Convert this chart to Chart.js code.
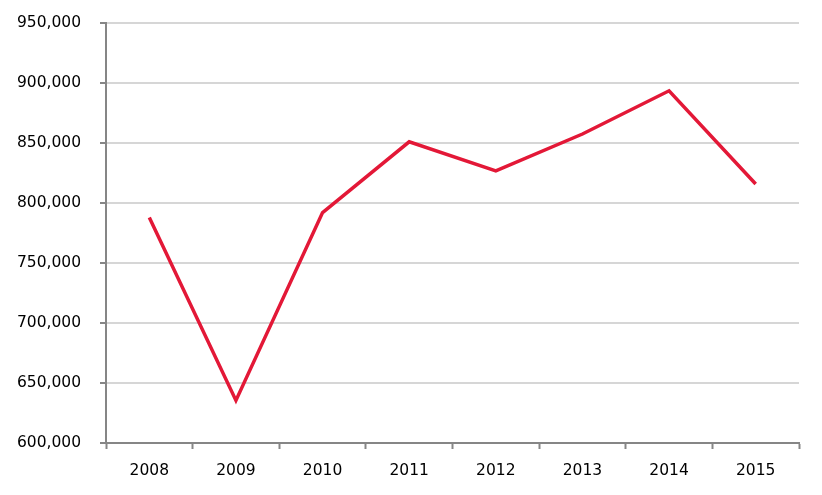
<!DOCTYPE html>
<html>
<head>
<meta charset="utf-8">
<script src="https://cdn.jsdelivr.net/npm/chart.js@4.4.1/dist/chart.umd.min.js"></script>
<style>
  html, body { margin: 0; padding: 0; background: #fff; }
  #chart { display: block; }
</style>
</head>
<body>
<canvas id="chart" width="822" height="495"></canvas>
<script>
// Data
const years = ['2008', '2009', '2010', '2011', '2012', '2013', '2014', '2015'];
const values = [788000, 635500, 792000, 851000, 826700, 857500, 893500, 815800];
const yMin = 600000;
const yMax = 950000;
const yStep = 50000;

Chart.defaults.font.family = '"DejaVu Sans", sans-serif';
Chart.defaults.color = '#000';

const axisGray = '#868686';

const ctx = document.getElementById('chart').getContext('2d');
const chart = new Chart(ctx, {
    type: 'line',
    data: {
        labels: years,
        datasets: [{
            data: values,
            borderColor: '#e31837',
            borderWidth: 3.5,
            pointRadius: 0,
            tension: 0,
            fill: false
        }]
    },
    options: {
        responsive: false,
        animation: false,
        devicePixelRatio: 1,
        layout: {
            padding: { top: 23, right: 23, left: 0, bottom: 0 }
        },
        plugins: {
            legend: { display: false },
            tooltip: { enabled: false }
        },
        scales: {
            x: {
                offset: true,
                grid: {
                    offset: true,
                    drawOnChartArea: false,
                    drawTicks: true,
                    tickLength: 6,
                    tickColor: axisGray,
                    tickWidth: 2
                },
                border: { color: axisGray, width: 2 },
                ticks: {
                    font: { size: 15.5 },
                    padding: 13,
                    maxRotation: 0
                },
                afterFit: function(scale) { scale.height = 52; }
            },
            y: {
                min: yMin,
                max: yMax,
                grid: {
                    color: '#d6d6d6',
                    lineWidth: 2,
                    tickLength: 6,
                    tickColor: axisGray,
                    tickWidth: 2
                },
                border: { color: axisGray, width: 2 },
                ticks: {
                    stepSize: yStep,
                    font: { size: 15.5 },
                    padding: 19,
                    callback: function(v) { return v.toLocaleString('en-US'); }
                },
                afterFit: function(scale) {
                    scale.width = 106;
                    // tick padding otherwise pushes the plot top down
                    scale.paddingTop = 0;
                    scale.paddingBottom = 0;
                }
            }
        }
    }
});
</script>
</body>
</html>
